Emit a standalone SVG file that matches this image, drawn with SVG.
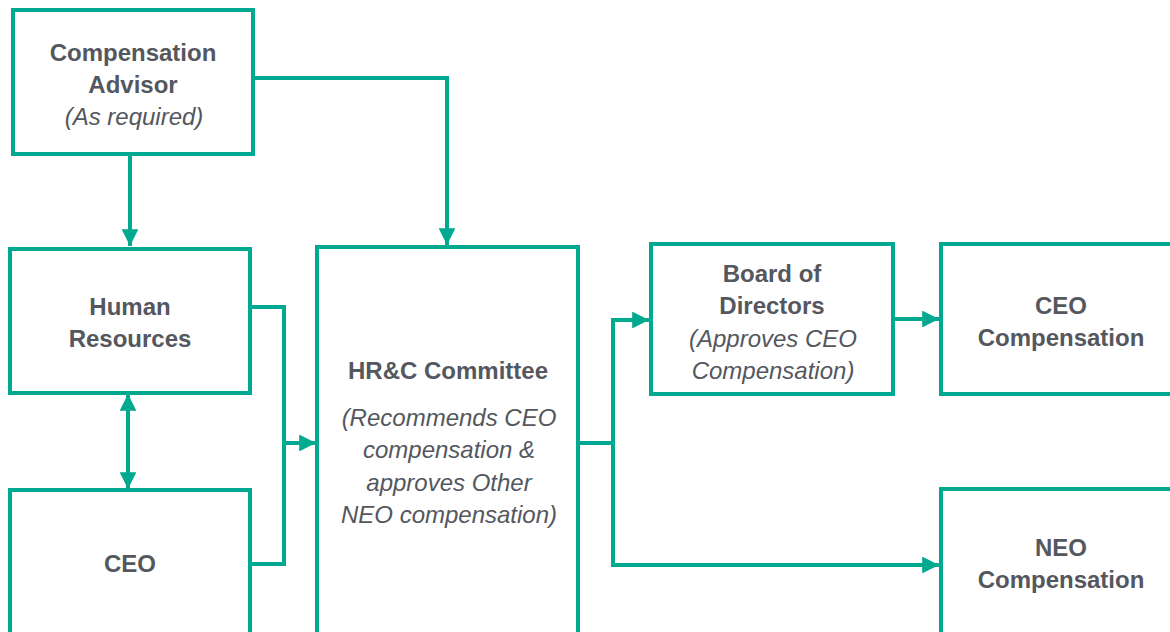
<svg xmlns="http://www.w3.org/2000/svg" width="1170" height="632" viewBox="0 0 1170 632">
<style>
.box{fill:#fff;stroke:#00A98F;stroke-width:4}
.ln{fill:none;stroke:#00A98F;stroke-width:4}
text{font-family:"Liberation Sans",Arial,sans-serif;font-size:24px;fill:#54575E;text-anchor:middle}
.b{font-weight:bold}
.i{font-style:italic}
</style>
<defs>
<marker id="ah" viewBox="0 0 10 10" refX="10" refY="5" markerWidth="4.2" markerHeight="4.2" markerUnits="strokeWidth" orient="auto-start-reverse">
<path d="M0,0 L10,5 L0,10 Z" fill="#00A98F"/>
</marker>
</defs>
<rect width="1170" height="632" fill="#fff"/>
<g id="connectors">
<path class="ln" d="M130,154 V246" marker-end="url(#ah)"/>
<path class="ln" d="M253,78 H447 V245" marker-end="url(#ah)"/>
<path class="ln" d="M128,394 V489" marker-start="url(#ah)" marker-end="url(#ah)"/>
<path class="ln" d="M250,307 H284 V564 H250"/>
<path class="ln" d="M284,443 H316" marker-end="url(#ah)"/>
<path class="ln" d="M578,443 H613 V320 H649" marker-end="url(#ah)"/>
<path class="ln" d="M613,443 V565 H939" marker-end="url(#ah)"/>
<path class="ln" d="M893,319 H939" marker-end="url(#ah)"/>
</g>
<g id="comp-advisor">
<rect class="box" x="13" y="10" width="240" height="144"/>
<text class="b" x="133" y="61">Compensation</text>
<text class="b" x="133" y="93">Advisor</text>
<text class="i" x="134" y="125">(As required)</text>
</g>
<g id="human-resources">
<rect class="box" x="10" y="249" width="240" height="144"/>
<text class="b" x="130" y="315">Human</text>
<text class="b" x="130" y="347">Resources</text>
</g>
<g id="ceo">
<rect class="box" x="10" y="490" width="240" height="160"/>
<text class="b" x="130" y="572">CEO</text>
</g>
<g id="hrc-committee">
<rect class="box" x="317" y="247" width="261" height="403"/>
<text class="b" x="448" y="379">HR&amp;C Committee</text>
<text class="i" x="449" y="426">(Recommends CEO</text>
<text class="i" x="449" y="458">compensation &amp;</text>
<text class="i" x="449" y="491">approves Other</text>
<text class="i" x="449" y="523">NEO compensation)</text>
</g>
<g id="board">
<rect class="box" x="651" y="244" width="242" height="150"/>
<text class="b" x="772" y="282">Board of</text>
<text class="b" x="772" y="314">Directors</text>
<text class="i" x="773" y="347">(Approves CEO</text>
<text class="i" x="773" y="379">Compensation)</text>
</g>
<g id="ceo-comp">
<rect class="box" x="941" y="244" width="260" height="150"/>
<text class="b" x="1061" y="314">CEO</text>
<text class="b" x="1061" y="346">Compensation</text>
</g>
<g id="neo-comp">
<rect class="box" x="941" y="489" width="260" height="160"/>
<text class="b" x="1061" y="556">NEO</text>
<text class="b" x="1061" y="588">Compensation</text>
</g>
</svg>
